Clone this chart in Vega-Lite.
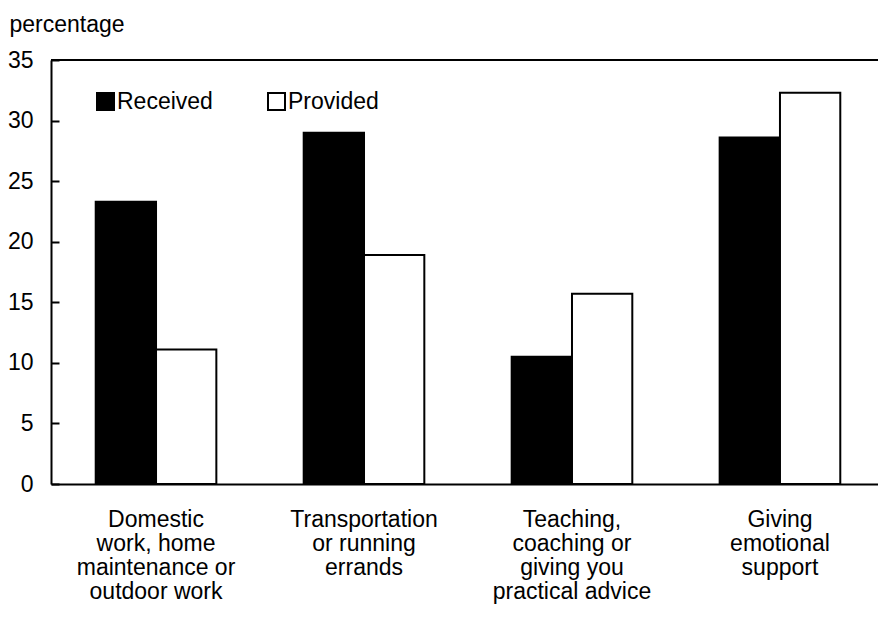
{
  "$schema": "https://vega.github.io/schema/vega-lite/v6.json",
  "autosize": {"type": "none"},
  "padding": {"left": 51, "top": 60, "right": 0, "bottom": 135},
  "width": 827,
  "height": 424,
  "background": "white",
  "config": {
    "view": {"stroke": null},
    "font": "Liberation Sans",
    "axis": {"labelFont": "Liberation Sans", "titleFont": "Liberation Sans", "labelColor": "black", "titleColor": "black", "grid": false}
  },
  "data": {
    "values": [
      {"activity": "Domestic work, home maintenance or outdoor work", "type": "Received", "pct": 23.3},
      {"activity": "Domestic work, home maintenance or outdoor work", "type": "Provided", "pct": 11.1},
      {"activity": "Transportation or running errands", "type": "Received", "pct": 29.0},
      {"activity": "Transportation or running errands", "type": "Provided", "pct": 18.9},
      {"activity": "Teaching, coaching or giving you practical advice", "type": "Received", "pct": 10.5},
      {"activity": "Teaching, coaching or giving you practical advice", "type": "Provided", "pct": 15.7},
      {"activity": "Giving emotional support", "type": "Received", "pct": 28.6},
      {"activity": "Giving emotional support", "type": "Provided", "pct": 32.3}
    ]
  },
  "layer": [
    {
      "mark": {"type": "bar", "stroke": "black", "strokeWidth": 2},
      "encoding": {
        "x": {
          "field": "activity",
          "type": "nominal",
          "sort": null,
          "scale": {"range": [0, 834], "paddingInner": 0.42, "paddingOuter": 0.215},
          "axis": {
            "title": null,
            "labelAngle": 0,
            "ticks": false,
            "domainColor": "black",
            "domainWidth": 2,
            "labelFontSize": 23,
            "labelLineHeight": 24,
            "labelPadding": 24,
            "labelBaseline": "top",
            "labelLimit": 0,
            "labelExpr": "datum.value == 'Domestic work, home maintenance or outdoor work' ? ['Domestic', 'work, home', 'maintenance or', 'outdoor work'] : datum.value == 'Transportation or running errands' ? ['Transportation', 'or running', 'errands'] : datum.value == 'Teaching, coaching or giving you practical advice' ? ['Teaching,', 'coaching or', 'giving you', 'practical advice'] : ['Giving', 'emotional', 'support']"
          }
        },
        "xOffset": {"field": "type", "type": "nominal", "sort": ["Received", "Provided"]},
        "y": {
          "field": "pct",
          "type": "quantitative",
          "scale": {"domain": [0, 35], "nice": false},
          "axis": {
            "values": [0, 5, 10, 15, 20, 25, 30, 35],
            "title": "percentage",
            "titleAngle": 0,
            "titleAlign": "left",
            "titleBaseline": "alphabetic",
            "titleX": -42,
            "titleY": -29,
            "titleFontSize": 23,
            "titleFontWeight": "normal",
            "labelFontSize": 23,
            "labelPadding": 26,
            "tickSize": -8,
            "tickColor": "black",
            "tickWidth": 2,
            "domainColor": "black",
            "domainWidth": 2
          }
        },
        "color": {
          "field": "type",
          "type": "nominal",
          "scale": {"domain": ["Received", "Provided"], "range": ["black", "white"]},
          "legend": {
            "title": null,
            "orient": "none",
            "direction": "horizontal",
            "legendX": 43,
            "legendY": 30,
            "symbolType": "square",
            "symbolSize": 289,
            "symbolStrokeColor": "black",
            "symbolStrokeWidth": 2,
            "labelFontSize": 23,
            "labelColor": "black",
            "labelOffset": 0,
            "columnPadding": 51,
            "padding": 0
          }
        }
      }
    },
    {
      "mark": {"type": "rule", "stroke": "black", "strokeWidth": 2},
      "encoding": {"y": {"datum": 35}}
    }
  ]
}
